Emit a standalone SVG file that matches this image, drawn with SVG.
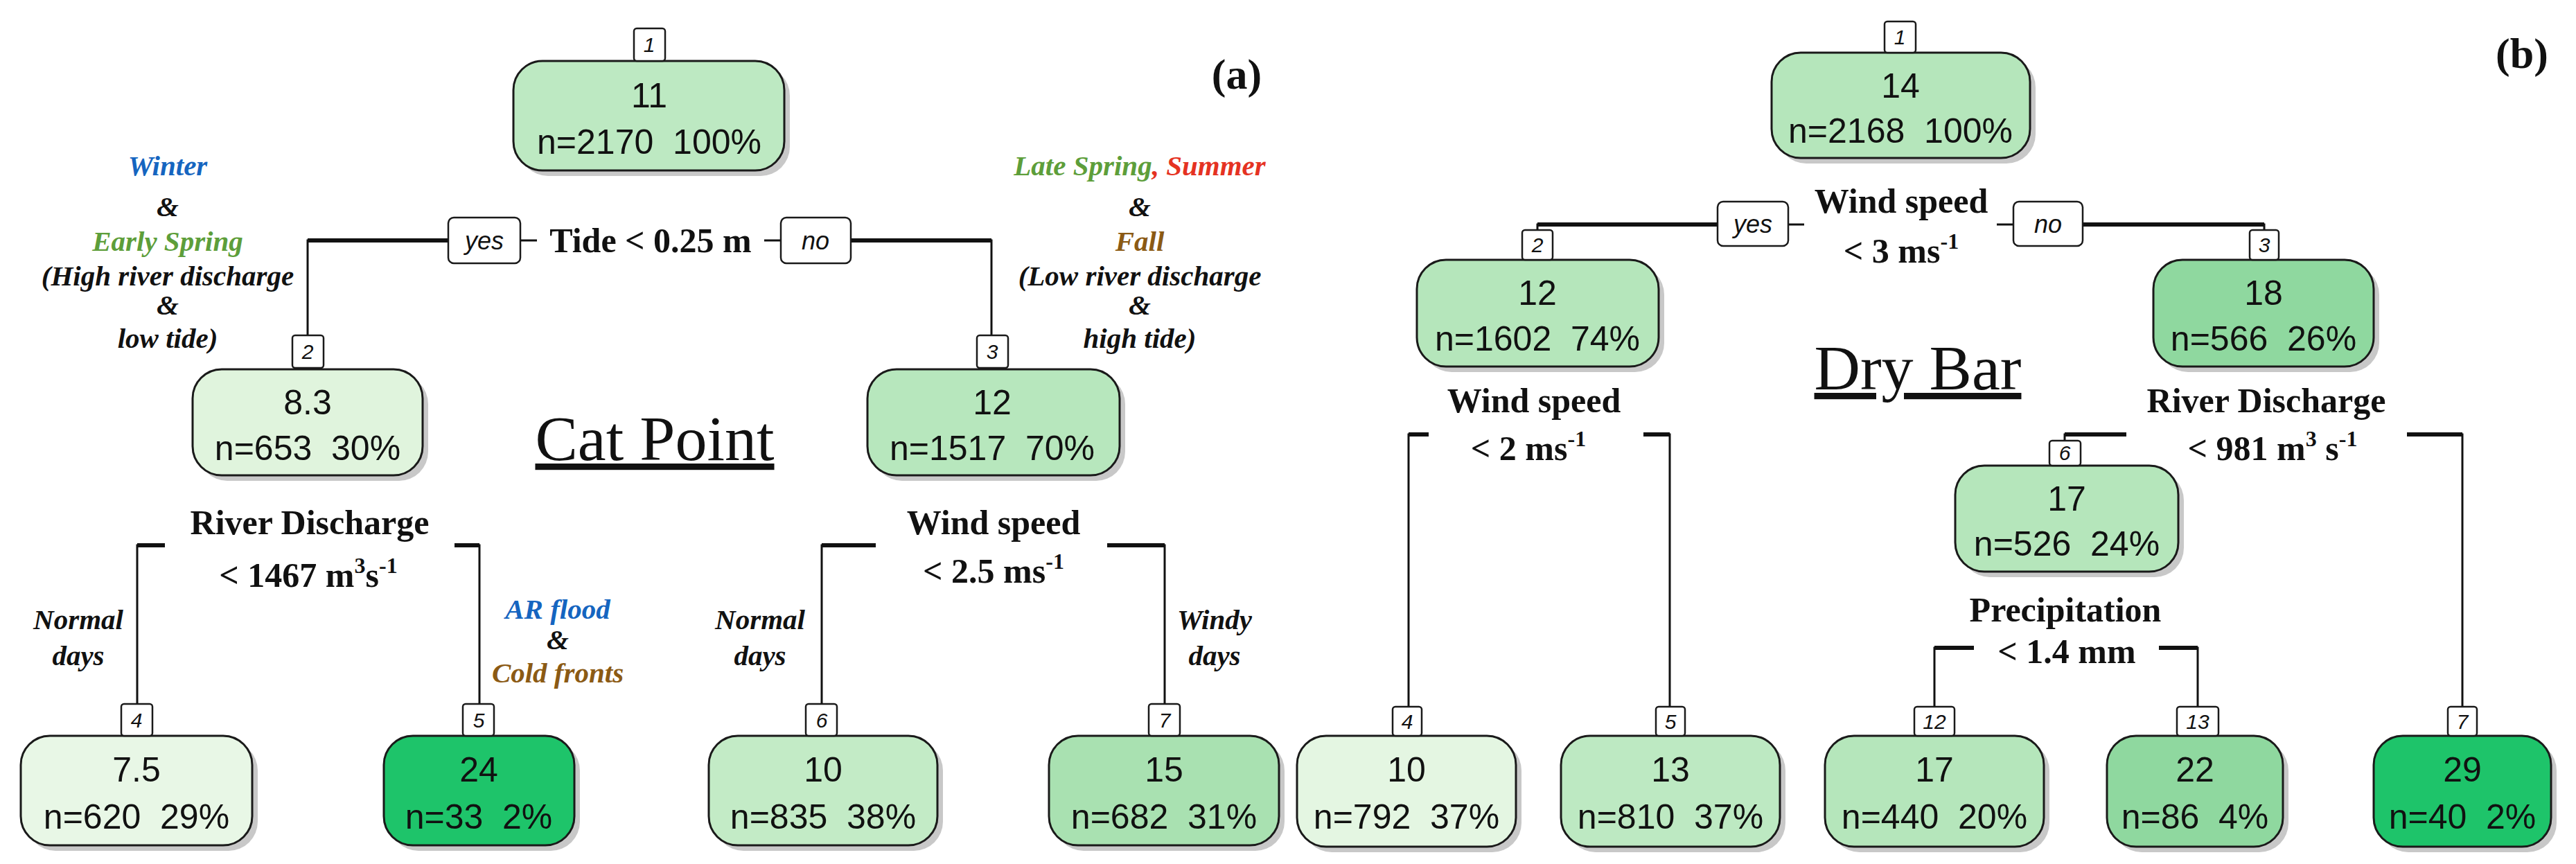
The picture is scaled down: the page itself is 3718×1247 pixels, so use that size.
<svg xmlns="http://www.w3.org/2000/svg" width="3718" height="1247" viewBox="0 0 3718 1247">
<style>
.bg{fill:#fff}
.nd{stroke:#1a1a1a;stroke-width:3}
.sh{fill:#9a9a9a;opacity:.55}
.nt{font-family:"Liberation Sans",Arial,sans-serif;font-size:50px;text-anchor:middle;fill:#111}
.tg{fill:#fff;stroke:#1a1a1a;stroke-width:2.5}
.tt{font-family:"Liberation Sans",Arial,sans-serif;font-size:30px;font-style:italic;text-anchor:middle;fill:#111}
.yn{font-family:"Liberation Sans",Arial,sans-serif;font-size:36px;font-style:italic;text-anchor:middle;fill:#111}
.ln{fill:none;stroke:#111;stroke-width:3}
.lt{fill:none;stroke:#111;stroke-width:6}
.sp{font-family:"Liberation Serif","Times New Roman",serif;font-weight:bold;font-size:50px;text-anchor:middle;fill:#111}
.an{font-family:"Liberation Serif","Times New Roman",serif;font-weight:bold;font-style:italic;font-size:41px;text-anchor:middle;fill:#111}
.blue{fill:#1565c0}
.green{fill:#5d9e3a}
.red{fill:#e53222}
.brown{fill:#8b5a14}
.ti{font-family:"Liberation Serif","Times New Roman",serif;font-size:92px;text-anchor:middle;fill:#111;text-decoration:underline}
.pl{font-family:"Liberation Serif","Times New Roman",serif;font-weight:bold;font-size:62px;text-anchor:middle;fill:#111}
</style>
<rect class="bg" width="3718" height="1247"/>
<g id="connectors">
<path class="ln" d="M444,484 V347 H647 M751,347 H775 M1103,347 H1127 M1228,347 H1431 V484"/>
<path class="lt" d="M444,347 H647 M1228,347 H1431"/>
<path class="ln" d="M198,1016 V787 H238 M656,787 H692 V1016"/>
<path class="ln" d="M1186,1016 V787 H1264 M1598,787 H1681 V1016"/>
<path class="lt" d="M198,787 H238 M656,787 H692 M1186,787 H1264 M1598,787 H1681"/>
<path class="ln" d="M2219,332 V324 H2479 M2581,324 H2604 M2882,324 H2906 M3006,324 H3268 V332"/>
<path class="lt" d="M2219,324 H2479 M3006,324 H3268"/>
<path class="ln" d="M2033,1020 V627 H2062 M2372,627 H2410 V1020"/>
<path class="ln" d="M2980,636 V627 H3069 M3474,627 H3554 V1020"/>
<path class="ln" d="M2792,1020 V935 H2849 M3116,935 H3172 V1020"/>
<path class="lt" d="M2033,627 H2062 M2372,627 H2410 M2980,627 H3069 M3474,627 H3554 M2792,935 H2849 M3116,935 H3172"/>
</g>
<g id="a-n1"><rect class="sh" x="749" y="96" width="391" height="158" rx="42"/><rect class="nd" x="741" y="88" width="391" height="158" rx="42" fill="#bde9c2"/><text class="nt" x="937" y="155">11</text><text class="nt" x="937" y="222" xml:space="preserve">n=2170  100%</text><rect class="tg" x="915" y="41" width="45" height="47" rx="4"/><text class="tt" x="937" y="75">1</text></g>
<g id="a-n2"><rect class="sh" x="286" y="541" width="332" height="153" rx="42"/><rect class="nd" x="278" y="533" width="332" height="153" rx="42" fill="#e0f4dd"/><text class="nt" x="444" y="598">8.3</text><text class="nt" x="444" y="664" xml:space="preserve">n=653  30%</text><rect class="tg" x="422" y="484" width="45" height="47" rx="4"/><text class="tt" x="444" y="518">2</text></g>
<g id="a-n3"><rect class="sh" x="1260" y="541" width="364" height="153" rx="42"/><rect class="nd" x="1252" y="533" width="364" height="153" rx="42" fill="#b7e7bd"/><text class="nt" x="1432" y="598">12</text><text class="nt" x="1432" y="664" xml:space="preserve">n=1517  70%</text><rect class="tg" x="1410" y="484" width="45" height="47" rx="4"/><text class="tt" x="1432" y="518">3</text></g>
<g id="a-n4"><rect class="sh" x="38" y="1070" width="334" height="158" rx="42"/><rect class="nd" x="30" y="1062" width="334" height="158" rx="42" fill="#e8f7e6"/><text class="nt" x="197" y="1128">7.5</text><text class="nt" x="197" y="1196" xml:space="preserve">n=620  29%</text><rect class="tg" x="175" y="1016" width="45" height="46" rx="4"/><text class="tt" x="197" y="1050">4</text></g>
<g id="a-n5"><rect class="sh" x="562" y="1070" width="275" height="158" rx="42"/><rect class="nd" x="554" y="1062" width="275" height="158" rx="42" fill="#1ec46a"/><text class="nt" x="691" y="1128">24</text><text class="nt" x="691" y="1196" xml:space="preserve">n=33  2%</text><rect class="tg" x="668" y="1016" width="45" height="46" rx="4"/><text class="tt" x="691" y="1050">5</text></g>
<g id="a-n6"><rect class="sh" x="1031" y="1070" width="330" height="158" rx="42"/><rect class="nd" x="1023" y="1062" width="330" height="158" rx="42" fill="#c3ebc6"/><text class="nt" x="1188" y="1128">10</text><text class="nt" x="1188" y="1196" xml:space="preserve">n=835  38%</text><rect class="tg" x="1163" y="1016" width="45" height="46" rx="4"/><text class="tt" x="1186" y="1050">6</text></g>
<g id="a-n7"><rect class="sh" x="1522" y="1070" width="332" height="158" rx="42"/><rect class="nd" x="1514" y="1062" width="332" height="158" rx="42" fill="#a9e1b1"/><text class="nt" x="1680" y="1128">15</text><text class="nt" x="1680" y="1196" xml:space="preserve">n=682  31%</text><rect class="tg" x="1658" y="1016" width="45" height="46" rx="4"/><text class="tt" x="1681" y="1050">7</text></g>
<g id="a-labels">
<rect class="tg" x="647" y="314" width="104" height="66" rx="8"/><text class="yn" x="699" y="360">yes</text>
<rect class="tg" x="1127" y="314" width="101" height="66" rx="8"/><text class="yn" x="1177" y="360">no</text>
<text class="sp" x="939" y="364">Tide &lt; 0.25 m</text>
<text class="an blue" x="242" y="253">Winter</text>
<text class="an" x="242" y="312">&amp;</text>
<text class="an green" x="242" y="362">Early Spring</text>
<text class="an" x="242" y="412">(High river discharge</text>
<text class="an" x="242" y="454">&amp;</text>
<text class="an" x="242" y="502">low tide)</text>
<text class="an" x="1645" y="253"><tspan class="green">Late Spring</tspan><tspan class="red">, Summer</tspan></text>
<text class="an" x="1645" y="312">&amp;</text>
<text class="an brown" x="1645" y="362">Fall</text>
<text class="an" x="1645" y="412">(Low river discharge</text>
<text class="an" x="1645" y="454">&amp;</text>
<text class="an" x="1645" y="502">high tide)</text>
<text class="ti" x="945" y="664">Cat Point</text>
<text class="sp" x="447" y="771">River Discharge</text>
<text class="sp" x="445" y="847">&lt; 1467 m<tspan font-size="32" dy="-20">3</tspan><tspan dy="20">s</tspan><tspan font-size="32" dy="-20">-1</tspan></text>
<text class="an" x="113" y="908">Normal</text>
<text class="an" x="113" y="960">days</text>
<text class="an blue" x="805" y="893">AR flood</text>
<text class="an" x="805" y="937">&amp;</text>
<text class="an brown" x="805" y="985">Cold fronts</text>
<text class="sp" x="1434" y="771">Wind speed</text>
<text class="sp" x="1434" y="841">&lt; 2.5 ms<tspan font-size="32" dy="-20">-1</tspan></text>
<text class="an" x="1097" y="908">Normal</text>
<text class="an" x="1097" y="960">days</text>
<text class="an" x="1753" y="908">Windy</text>
<text class="an" x="1753" y="960">days</text>
<text class="pl" x="1785" y="128">(a)</text>
</g>
<g id="b-n1"><rect class="sh" x="2565" y="84" width="373" height="152" rx="42"/><rect class="nd" x="2557" y="76" width="373" height="152" rx="42" fill="#b5e6bb"/><text class="nt" x="2743" y="141">14</text><text class="nt" x="2743" y="206" xml:space="preserve">n=2168  100%</text><rect class="tg" x="2720" y="31" width="45" height="45" rx="4"/><text class="tt" x="2742" y="64">1</text></g>
<g id="b-n2"><rect class="sh" x="2053" y="383" width="349" height="154" rx="42"/><rect class="nd" x="2045" y="375" width="349" height="154" rx="42" fill="#b5e6bb"/><text class="nt" x="2219" y="440">12</text><text class="nt" x="2219" y="506" xml:space="preserve">n=1602  74%</text><rect class="tg" x="2197" y="332" width="44" height="43" rx="4"/><text class="tt" x="2219" y="364">2</text></g>
<g id="b-n3"><rect class="sh" x="3116" y="383" width="318" height="154" rx="42"/><rect class="nd" x="3108" y="375" width="318" height="154" rx="42" fill="#8fd89f"/><text class="nt" x="3267" y="440">18</text><text class="nt" x="3267" y="506" xml:space="preserve">n=566  26%</text><rect class="tg" x="3247" y="332" width="42" height="43" rx="4"/><text class="tt" x="3268" y="364">3</text></g>
<g id="b-n6"><rect class="sh" x="2830" y="680" width="322" height="153" rx="42"/><rect class="nd" x="2822" y="672" width="322" height="153" rx="42" fill="#b5e6bb"/><text class="nt" x="2983" y="737">17</text><text class="nt" x="2983" y="802" xml:space="preserve">n=526  24%</text><rect class="tg" x="2958" y="636" width="45" height="36" rx="4"/><text class="tt" x="2980" y="664">6</text></g>
<g id="b-n4"><rect class="sh" x="1880" y="1070" width="316" height="160" rx="42"/><rect class="nd" x="1872" y="1062" width="316" height="160" rx="42" fill="#e4f6e2"/><text class="nt" x="2030" y="1128">10</text><text class="nt" x="2030" y="1196" xml:space="preserve">n=792  37%</text><rect class="tg" x="2010" y="1020" width="42" height="42" rx="4"/><text class="tt" x="2031" y="1052">4</text></g>
<g id="b-n5"><rect class="sh" x="2261" y="1070" width="316" height="160" rx="42"/><rect class="nd" x="2253" y="1062" width="316" height="160" rx="42" fill="#bde9c2"/><text class="nt" x="2411" y="1128">13</text><text class="nt" x="2411" y="1196" xml:space="preserve">n=810  37%</text><rect class="tg" x="2390" y="1020" width="42" height="42" rx="4"/><text class="tt" x="2411" y="1052">5</text></g>
<g id="b-n12"><rect class="sh" x="2642" y="1070" width="316" height="160" rx="42"/><rect class="nd" x="2634" y="1062" width="316" height="160" rx="42" fill="#b5e6bb"/><text class="nt" x="2792" y="1128">17</text><text class="nt" x="2792" y="1196" xml:space="preserve">n=440  20%</text><rect class="tg" x="2763" y="1020" width="58" height="42" rx="4"/><text class="tt" x="2792" y="1052">12</text></g>
<g id="b-n13"><rect class="sh" x="3049" y="1070" width="254" height="160" rx="42"/><rect class="nd" x="3041" y="1062" width="254" height="160" rx="42" fill="#8fd89f"/><text class="nt" x="3168" y="1128">22</text><text class="nt" x="3168" y="1196" xml:space="preserve">n=86  4%</text><rect class="tg" x="3142" y="1020" width="60" height="42" rx="4"/><text class="tt" x="3172" y="1052">13</text></g>
<g id="b-n7"><rect class="sh" x="3434" y="1070" width="256" height="160" rx="42"/><rect class="nd" x="3426" y="1062" width="256" height="160" rx="42" fill="#1ec46a"/><text class="nt" x="3554" y="1128">29</text><text class="nt" x="3554" y="1196" xml:space="preserve">n=40  2%</text><rect class="tg" x="3533" y="1020" width="42" height="42" rx="4"/><text class="tt" x="3554" y="1052">7</text></g>
<g id="b-labels">
<rect class="tg" x="2479" y="291" width="102" height="64" rx="8"/><text class="yn" x="2530" y="336">yes</text>
<rect class="tg" x="2906" y="291" width="100" height="64" rx="8"/><text class="yn" x="2956" y="336">no</text>
<text class="sp" x="2744" y="307">Wind speed</text>
<text class="sp" x="2744" y="379">&lt; 3 ms<tspan font-size="32" dy="-20">-1</tspan></text>
<text class="ti" x="2768" y="562">Dry Bar</text>
<text class="sp" x="2214" y="595">Wind speed</text>
<text class="sp" x="2206" y="664">&lt; 2 ms<tspan font-size="32" dy="-20">-1</tspan></text>
<text class="sp" x="3271" y="595">River Discharge</text>
<text class="sp" x="3280" y="664">&lt; 981 m<tspan font-size="32" dy="-20">3</tspan><tspan dy="20"> s</tspan><tspan font-size="32" dy="-20">-1</tspan></text>
<text class="sp" x="2981" y="897">Precipitation</text>
<text class="sp" x="2983" y="957">&lt; 1.4 mm</text>
<text class="pl" x="3640" y="98">(b)</text>
</g>
</svg>
